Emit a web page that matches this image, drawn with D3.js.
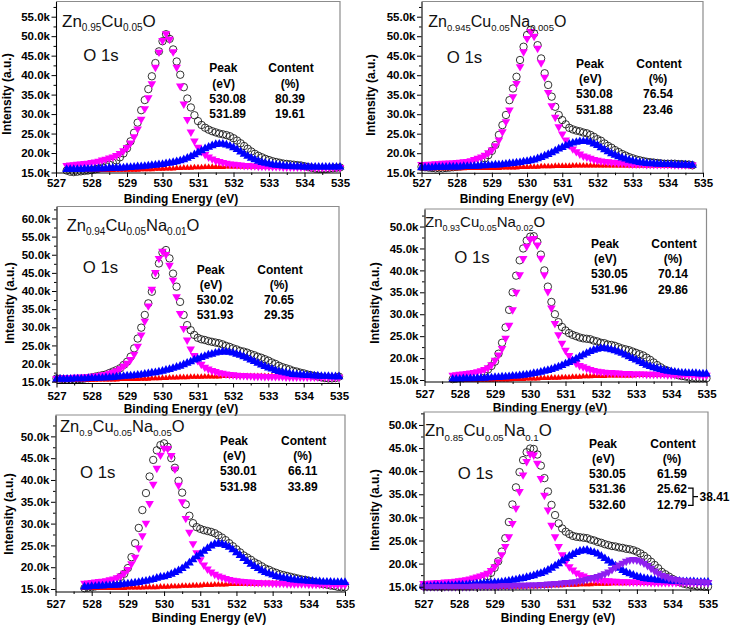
<!DOCTYPE html>
<html><head><meta charset="utf-8">
<script src="https://cdn.jsdelivr.net/npm/d3@7"></script>
<style>body{margin:0;background:#fff}svg{display:block}</style>
</head><body><svg id="c" width="730" height="625"></svg>
<script>
// ---------------- DATA ----------------
const xTickValues = [527,528,529,530,531,532,533,534,535];
const xMinorTicks = [527.5,528.5,529.5,530.5,531.5,532.5,533.5,534.5];
const yTicksA = [15,20,25,30,35,40,45,50,55];
const yTicksB = [15,20,25,30,35,40,45,50,55,60];
const yTicksC = [15,20,25,30,35,40,45,50];
const stepEV = 0.1;

// Panel 1: Zn0.95Cu0.05O
const p1Start = 527.3;
const p1Circles = [15.5,15.2,15.1,15.2,15.3,15.4,15.5,15.6,15.8,16.0,
16.3,16.6,17.0,17.5,18.1,18.9,19.9,21.2,23.0,25.2,
27.8,31.0,33.6,36.4,39.7,43.1,46.1,48.7,50.5,49.3,
46.6,43.5,40.1,36.9,34.0,31.7,29.7,28.2,27.2,26.5,
26.0,25.6,25.3,25.0,24.8,24.6,24.3,23.8,23.2,22.5,
21.8,21.1,20.4,19.8,19.3,18.9,18.5,18.2,17.9,17.7,
17.5,17.3,17.2,17.1,17.0,16.9,16.8,16.6,16.4,16.2,
16.0,15.9,15.9,15.9,16.0,16.1,16.2,16.3];
const p1Magenta = [16.8,16.9,17.0,17.1,17.2,17.3,17.4,17.6,17.7,17.9,
18.2,18.4,18.7,19.0,19.4,19.9,20.6,21.4,22.6,24.2,
26.2,28.7,31.4,34.2,37.8,42.0,45.9,48.9,50.6,49.2,
46.0,42.0,37.2,32.6,28.6,25.4,23.1,21.5,20.4,19.6,
19.0,18.5,18.1,17.8,17.6,17.4,17.2,17.1,17.0,16.9,
16.8,16.8,16.7,16.7,16.6,16.6,16.6,16.5,16.5,16.5,
16.5,16.4,16.4,16.4,16.4,16.4,16.4,16.4,16.4,16.3,
16.3,16.3,16.3,16.3,16.3,16.3,16.3,16.3];
const p1Blue = [15.8,15.8,15.8,15.8,15.8,15.9,15.9,15.9,15.9,16.0,
16.0,16.0,16.1,16.1,16.1,16.2,16.2,16.3,16.3,16.4,
16.5,16.5,16.6,16.7,16.8,16.9,17.0,17.1,17.3,17.4,
17.6,17.8,18.0,18.3,18.7,19.1,19.6,20.1,20.6,21.1,
21.5,21.9,22.2,22.3,22.3,22.1,21.8,21.4,20.9,20.3,
19.7,19.2,18.7,18.3,17.9,17.6,17.4,17.2,17.0,16.9,
16.8,16.7,16.6,16.6,16.5,16.5,16.5,16.4,16.4,16.4,
16.4,16.4,16.4,16.4,16.4,16.4,16.4,16.4];
const p1Red = [15.6,15.6,15.6,15.6,15.6,15.6,15.6,15.6,15.6,15.6,
15.6,15.6,15.6,15.6,15.7,15.7,15.7,15.7,15.7,15.7,
15.7,15.8,15.8,15.8,15.8,15.9,15.9,15.9,16.0,16.0,
16.0,16.1,16.1,16.2,16.2,16.2,16.3,16.3,16.3,16.4,
16.4,16.4,16.4,16.4,16.4,16.5,16.5,16.5,16.5,16.5,
16.5,16.5,16.5,16.5,16.5,16.5,16.5,16.5,16.5,16.5,
16.5,16.5,16.5,16.5,16.5,16.5,16.5,16.4,16.4,16.4,
16.4,16.4,16.4,16.4,16.4,16.4,16.4,16.4];
const p1Peaks = ["530.08","531.89"];
const p1Contents = ["80.39","19.61"];

// Panel 2: Zn0.945Cu0.05Na0.005O
const p2Start = 527.0;
const p2Circles = [16.5,16.4,16.3,16.2,16.1,16.1,16.1,16.2,16.3,16.4,
16.5,16.6,16.8,16.9,17.1,17.3,17.6,18.0,18.7,19.5,
20.6,22.1,24.7,27.2,29.8,33.6,36.6,39.6,43.9,47.3,
50.3,51.6,50.7,47.7,44.3,40.5,37.5,34.5,31.9,29.8,
28.5,27.4,26.5,26.1,25.8,25.6,25.3,25.1,24.7,24.2,
23.6,23.2,22.5,21.9,21.4,20.8,20.3,19.8,19.4,19.0,
18.7,18.4,18.2,18.0,17.8,17.7,17.6,17.5,17.4,17.3,
17.3,17.3,17.3,17.2,17.2,17.1,17.1,16.9];
const p2Magenta = [17.1,17.1,17.2,17.2,17.3,17.3,17.4,17.4,17.5,17.5,
17.6,17.7,17.8,17.9,18.1,18.4,18.7,19.0,19.5,20.1,
20.8,21.9,23.4,25.5,28.1,31.1,34.5,37.9,42.2,46.0,
49.4,51.2,50.0,46.9,43.2,39.5,35.6,32.2,29.2,26.8,
24.9,23.4,22.1,21.1,20.4,19.8,19.3,19.0,18.7,18.4,
18.2,18.0,17.9,17.8,17.7,17.6,17.5,17.5,17.4,17.3,
17.2,17.2,17.2,17.2,17.1,17.1,17.1,17.1,17.1,17.1,
17.1,17.1,17.0,17.0,17.0,17.0,17.0,17.0];
const p2Blue = [16.3,16.3,16.3,16.3,16.4,16.4,16.4,16.4,16.5,16.5,
16.5,16.5,16.6,16.6,16.6,16.7,16.7,16.8,16.8,16.9,
16.9,17.0,17.0,17.1,17.2,17.3,17.4,17.5,17.6,17.8,
17.9,18.1,18.3,18.6,18.9,19.3,19.7,20.1,20.6,21.1,
21.5,21.9,22.3,22.6,22.8,23.0,23.0,23.0,22.8,22.4,
22.0,21.4,20.9,20.4,19.9,19.5,19.1,18.8,18.5,18.2,
18.0,17.8,17.6,17.5,17.4,17.3,17.3,17.2,17.2,17.1,
17.1,17.1,17.0,17.0,17.0,17.0,16.9,16.9];
const p2Red = [16.1,16.1,16.1,16.1,16.1,16.1,16.1,16.1,16.1,16.1,
16.1,16.1,16.1,16.2,16.2,16.2,16.2,16.2,16.2,16.2,
16.2,16.2,16.2,16.3,16.3,16.3,16.3,16.3,16.4,16.4,
16.4,16.5,16.5,16.5,16.6,16.6,16.6,16.6,16.7,16.7,
16.7,16.7,16.7,16.8,16.8,16.8,16.8,16.8,16.8,16.8,
16.8,16.8,16.8,16.8,16.8,16.8,16.8,16.8,16.8,16.8,
16.8,16.8,16.8,16.8,16.8,16.8,16.8,16.8,16.8,16.8,
16.8,16.8,16.8,16.8,16.8,16.8,16.8,16.8];
const p2Peaks = ["530.08","531.88"];
const p2Contents = ["76.54","23.46"];

// Panel 3: Zn0.94Cu0.05Na0.01O
const p3Start = 527.0;
const p3Circles = [15.9,15.8,15.7,15.6,15.6,15.6,15.7,15.7,15.9,16.0,
16.2,16.4,16.6,16.8,17.0,17.4,17.8,18.2,18.7,19.6,
20.5,21.9,24.2,26.9,29.9,33.4,36.6,39.8,44.4,47.6,
50.6,51.3,49.0,44.8,41.2,37.0,33.4,30.6,29.2,27.9,
27.1,26.7,26.5,26.2,26.0,25.8,25.6,25.3,24.9,24.6,
24.2,23.9,23.5,23.3,23.0,22.6,22.3,21.9,21.6,21.2,
20.8,20.3,19.9,19.4,19.0,18.7,18.4,18.0,17.8,17.5,
17.3,17.0,16.8,16.6,16.4,16.2,16.0,15.9,15.9,16.0,
16.4];
const p3Magenta = [15.9,16.0,16.0,16.1,16.1,16.2,16.2,16.3,16.3,16.4,
16.5,16.6,16.7,16.9,17.0,17.3,17.6,18.0,18.6,19.3,
20.1,21.1,22.6,24.8,27.9,31.7,35.9,40.5,45.1,49.0,
51.0,50.1,47.1,43.0,38.4,33.8,29.7,26.5,24.0,22.2,
20.8,19.8,19.0,18.5,18.1,17.8,17.5,17.3,17.1,17.0,
16.9,16.8,16.7,16.7,16.6,16.6,16.5,16.5,16.5,16.4,
16.4,16.4,16.4,16.4,16.4,16.3,16.3,16.3,16.3,16.3,
16.3,16.3,16.3,16.3,16.3,16.3,16.3,16.2,16.2,16.2,
16.2];
const p3Blue = [15.7,15.7,15.7,15.7,15.7,15.8,15.8,15.8,15.8,15.9,
15.9,15.9,16.0,16.0,16.1,16.1,16.2,16.3,16.4,16.5,
16.6,16.6,16.7,16.8,16.9,17.1,17.2,17.4,17.5,17.7,
17.9,18.2,18.4,18.7,19.0,19.3,19.7,20.1,20.5,21.0,
21.3,21.7,22.0,22.4,22.6,22.9,23.1,23.2,23.2,23.1,
22.9,22.6,22.3,21.9,21.5,21.0,20.6,20.1,19.6,19.2,
18.8,18.5,18.1,17.8,17.6,17.4,17.2,17.0,16.9,16.9,
16.8,16.7,16.7,16.6,16.6,16.5,16.5,16.5,16.4,16.4,
16.4];
const p3Red = [15.5,15.5,15.5,15.5,15.5,15.5,15.5,15.5,15.5,15.5,
15.5,15.5,15.6,15.6,15.6,15.6,15.6,15.6,15.7,15.7,
15.7,15.7,15.7,15.7,15.8,15.8,15.8,15.9,15.9,15.9,
16.0,16.0,16.1,16.1,16.1,16.2,16.2,16.2,16.3,16.3,
16.3,16.3,16.4,16.4,16.4,16.4,16.4,16.5,16.5,16.5,
16.5,16.5,16.5,16.5,16.5,16.5,16.5,16.5,16.5,16.5,
16.5,16.5,16.5,16.5,16.5,16.5,16.5,16.5,16.5,16.5,
16.5,16.5,16.5,16.5,16.5,16.5,16.5,16.5,16.5,16.5,
16.5];
const p3Peaks = ["530.02","531.93"];
const p3Contents = ["70.65","29.35"];

// Panel 4: Zn0.93Cu0.05Na0.02O
const p4Start = 527.8;
const p4Circles = [15.2,15.3,15.4,15.4,15.5,15.7,15.9,16.2,16.5,16.9,
17.4,18.2,19.2,21.0,23.5,27.0,31.0,35.0,38.8,42.3,
45.0,46.8,47.7,47.8,46.5,43.6,40.0,36.3,32.8,30.0,
28.2,27.1,26.3,25.7,25.3,25.0,24.7,24.5,24.4,24.3,
24.0,23.8,23.5,23.4,23.1,23.0,22.8,22.5,22.2,22.0,
21.8,21.5,21.2,20.9,20.6,20.1,19.6,19.0,18.4,17.9,
17.4,17.1,16.7,16.4,16.1,15.9,15.8,15.6,15.5,15.4,
15.4,15.4,15.4];
const p4Magenta = [16.1,16.2,16.3,16.4,16.5,16.6,16.7,16.9,17.1,17.4,
17.8,18.5,19.5,20.7,22.2,24.5,27.5,31.0,35.0,39.0,
42.7,45.5,47.1,47.3,45.8,42.8,39.0,35.2,31.4,27.9,
25.3,23.4,21.8,20.6,19.6,18.8,18.3,18.0,17.7,17.4,
17.2,17.0,16.9,16.8,16.7,16.7,16.6,16.6,16.5,16.5,
16.5,16.4,16.4,16.4,16.4,16.3,16.3,16.3,16.3,16.3,
16.3,16.2,16.2,16.2,16.2,16.2,16.2,16.2,16.2,16.1,
16.1,16.1,16.1];
const p4Blue = [15.2,15.2,15.2,15.3,15.3,15.3,15.3,15.4,15.4,15.4,
15.5,15.5,15.6,15.6,15.7,15.7,15.8,15.9,15.9,16.0,
16.1,16.2,16.3,16.5,16.6,16.8,17.0,17.2,17.4,17.7,
18.0,18.3,18.7,19.0,19.4,19.8,20.3,20.7,21.1,21.5,
21.8,22.0,22.2,22.2,22.1,21.9,21.7,21.4,21.1,20.7,
20.3,19.9,19.6,19.2,18.8,18.4,18.1,17.8,17.6,17.4,
17.2,17.0,16.9,16.8,16.7,16.6,16.6,16.5,16.5,16.5,
16.4,16.4,16.4];
const p4Red = [15.0,15.0,15.0,15.0,15.0,15.0,15.0,15.0,15.0,15.0,
15.0,15.0,15.1,15.1,15.1,15.1,15.1,15.2,15.2,15.2,
15.2,15.3,15.3,15.3,15.3,15.4,15.4,15.4,15.5,15.5,
15.5,15.6,15.6,15.6,15.7,15.7,15.7,15.8,15.8,15.8,
15.9,15.9,15.9,15.9,16.0,16.0,16.0,16.0,16.0,16.0,
16.0,16.0,16.1,16.1,16.1,16.1,16.1,16.1,16.1,16.1,
16.1,16.1,16.1,16.1,16.1,16.1,16.1,16.1,16.1,16.1,
16.1,16.1,16.1];
const p4Peaks = ["530.05","531.96"];
const p4Contents = ["70.14","29.86"];

// Panel 5: Zn0.9Cu0.05Na0.05O
const p5Start = 527.8;
const p5Circles = [15.2,15.3,15.4,15.6,15.7,15.9,16.1,16.4,16.7,17.2,
17.8,18.5,19.8,22.3,25.5,29.0,33.1,37.0,40.8,44.6,
46.8,48.0,48.4,47.6,45.0,42.8,39.8,37.1,34.4,31.8,
30.1,29.2,28.8,28.5,28.3,28.1,27.8,27.3,26.8,26.2,
25.5,24.8,24.1,23.4,22.7,22.2,21.7,21.1,20.7,20.2,
19.7,19.4,19.0,18.7,18.4,18.2,18.0,17.8,17.6,17.4,
17.2,17.1,16.9,16.7,16.5,16.3,16.1,16.0,15.8,15.7,
15.5,15.4,15.4];
const p5Magenta = [16.3,16.4,16.5,16.6,16.7,16.8,16.9,17.1,17.3,17.6,
18.0,18.6,19.5,20.8,22.3,24.4,27.2,30.1,34.6,39.0,
42.7,45.7,47.3,47.2,45.6,42.5,38.8,35.0,31.2,28.0,
25.4,23.3,21.7,20.5,19.6,18.9,18.4,18.0,17.7,17.4,
17.2,17.0,16.9,16.8,16.7,16.6,16.6,16.5,16.5,16.4,
16.4,16.4,16.3,16.3,16.3,16.3,16.2,16.2,16.2,16.2,
16.2,16.2,16.1,16.1,16.1,16.1,16.1,16.1,16.0,16.0,
16.0,16.0,16.0];
const p5Blue = [15.5,15.5,15.6,15.6,15.7,15.7,15.8,15.8,15.9,15.9,
16.0,16.1,16.2,16.3,16.4,16.5,16.7,16.8,17.0,17.2,
17.5,17.7,17.8,18.1,18.4,18.8,19.2,19.7,20.3,21.0,
21.7,22.4,23.0,23.7,24.3,24.9,25.3,25.4,25.3,25.0,
24.6,24.0,23.3,22.7,22.0,21.3,20.7,20.2,19.7,19.2,
18.8,18.5,18.2,17.9,17.7,17.5,17.4,17.2,17.1,17.0,
16.9,16.9,16.8,16.8,16.7,16.7,16.6,16.6,16.6,16.5,
16.5,16.5,16.5];
const p5Red = [15.2,15.2,15.2,15.2,15.2,15.2,15.2,15.2,15.2,15.2,
15.2,15.2,15.3,15.3,15.3,15.3,15.3,15.4,15.4,15.4,
15.4,15.5,15.5,15.5,15.6,15.6,15.6,15.7,15.7,15.7,
15.8,15.8,15.8,15.9,15.9,15.9,16.0,16.0,16.0,16.0,
16.1,16.1,16.1,16.1,16.2,16.2,16.2,16.2,16.2,16.3,
16.3,16.3,16.3,16.3,16.3,16.3,16.3,16.4,16.4,16.4,
16.4,16.4,16.4,16.4,16.4,16.4,16.4,16.4,16.4,16.4,
16.4,16.4,16.4];
const p5Peaks = ["530.01","531.98"];
const p5Contents = ["66.11","33.89"];

// Panel 6: Zn0.85Cu0.05Na0.1O
const p6Start = 527.0;
const p6Circles = [15.1,15.1,15.1,15.1,15.1,15.1,15.2,15.2,15.3,15.3,
15.4,15.5,15.6,15.7,15.9,16.1,16.4,16.8,17.3,18.0,
19.1,20.5,22.6,25.5,29.0,32.8,36.5,39.8,42.4,44.1,
44.9,44.8,43.6,41.2,38.5,35.6,32.7,30.5,28.7,27.6,
26.9,26.4,26.0,25.8,25.7,25.6,25.5,25.2,25.0,24.7,
24.5,24.2,24.0,23.8,23.7,23.5,23.4,23.2,23.1,22.9,
22.6,22.2,21.7,21.1,20.4,19.7,19.0,18.2,17.7,17.2,
16.7,16.3,16.0,15.7,15.5,15.4,15.3,15.1,15.1,15.0,
15.0];
const p6Magenta = [15.7,15.7,15.8,15.8,15.9,15.9,16.0,16.0,16.1,16.2,
16.3,16.4,16.5,16.7,16.9,17.1,17.3,17.6,17.9,18.5,
19.3,20.4,21.9,23.7,25.8,28.7,32.0,35.6,39.2,42.1,
43.7,43.5,41.7,38.4,34.8,31.6,28.3,25.8,23.7,21.9,
20.4,19.3,18.6,18.0,17.6,17.3,17.0,16.8,16.6,16.5,
16.4,16.3,16.3,16.2,16.2,16.1,16.1,16.1,16.0,16.0,
16.0,16.0,16.0,16.0,15.9,15.9,15.9,15.9,15.9,15.9,
15.9,15.9,15.9,15.9,15.9,15.9,15.9,15.9,15.9,15.9,
15.9];
const p6Blue = [15.1,15.1,15.1,15.2,15.2,15.2,15.2,15.3,15.3,15.3,
15.4,15.4,15.4,15.5,15.5,15.6,15.6,15.7,15.7,15.8,
15.9,15.9,16.0,16.1,16.2,16.4,16.5,16.7,16.8,17.0,
17.2,17.4,17.7,17.9,18.2,18.6,19.0,19.5,20.0,20.6,
21.1,21.6,22.0,22.4,22.7,22.8,22.9,22.6,22.4,22.1,
21.6,21.1,20.6,20.1,19.5,19.0,18.5,18.1,17.8,17.5,
17.2,17.0,16.8,16.7,16.6,16.5,16.4,16.4,16.3,16.3,
16.2,16.2,16.2,16.1,16.1,16.1,16.1,16.0,16.0,16.0,
16.0];
const p6Purple = [15.0,15.0,15.0,15.0,15.0,15.0,15.0,15.0,15.0,15.0,
15.0,15.0,15.0,15.0,15.1,15.1,15.1,15.1,15.1,15.1,
15.1,15.1,15.2,15.2,15.2,15.2,15.3,15.3,15.3,15.3,
15.4,15.4,15.4,15.5,15.5,15.6,15.6,15.7,15.7,15.8,
15.9,15.9,16.0,16.1,16.3,16.4,16.6,16.8,17.0,17.2,
17.5,17.8,18.2,18.7,19.2,19.7,20.1,20.5,20.8,20.9,
20.8,20.5,20.1,19.6,19.0,18.4,17.9,17.5,17.2,16.9,
16.7,16.5,16.4,16.3,16.2,16.2,16.1,16.1,16.0,16.0,
15.9];
const p6Red = [14.8,14.8,14.8,14.8,14.8,14.8,14.8,14.8,14.8,14.8,
14.8,14.8,14.8,14.8,14.9,14.9,14.9,14.9,14.9,14.9,
14.9,14.9,14.9,14.9,15.0,15.0,15.0,15.0,15.0,15.1,
15.1,15.1,15.1,15.2,15.2,15.2,15.3,15.3,15.3,15.3,
15.4,15.4,15.4,15.4,15.5,15.5,15.5,15.5,15.6,15.6,
15.6,15.6,15.6,15.7,15.7,15.7,15.7,15.7,15.8,15.8,
15.8,15.8,15.8,15.8,15.8,15.8,15.9,15.9,15.9,15.9,
15.9,15.9,15.9,15.9,15.9,15.9,15.9,15.9,15.9,15.9,
15.9];
const p6Peaks = ["530.05","531.36","532.60"];
const p6Contents = ["61.59","25.62","12.79"];
const p6BracketSum = "38.41";

// ---------------- LAYOUT / STYLE ----------------
const FONT = "'Liberation Sans', Arial, Helvetica, sans-serif";
const C_MAG = "#ff00ff", C_BLUE = "#0000ff", C_RED = "#ff0000", C_PUR = "#8f1ff0";

const panels = [
 {start:p1Start, circles:p1Circles, comps:[[p1Red,C_RED,'r'],[p1Magenta,C_MAG,'m'],[p1Blue,C_BLUE,'b']],
  yTicks:yTicksA, title:[["Zn",0],["0.95",1],["Cu",0],["0.05",1],["O",0]], peaks:p1Peaks, contents:p1Contents,
  L:{left:56,right:340,top:1.5,bottom:172.5,yMin:15,yMax:58.9,xPad:2.3,yTX:7,yTY:94,xTX:181,xTY:199,
     tX:62,tY:26.7,tB:17,tS:10,oX:83.3,oY:61,pX:209.3,cX:291,r0:68,rd:15.3}},
 {start:p2Start, circles:p2Circles, comps:[[p2Red,C_RED,'r'],[p2Magenta,C_MAG,'m'],[p2Blue,C_BLUE,'b']],
  yTicks:yTicksA, title:[["Zn",0],["0.945",1],["Cu",0],["0.05",1],["Na",0],["0.005",1],["O",0]], peaks:p2Peaks, contents:p2Contents,
  L:{left:421.5,right:703,top:1.5,bottom:172.7,yMin:15,yMax:58.9,xPad:2,yTX:371,yTY:95,xTX:517,xTY:199,
     tX:428.3,tY:26.7,tB:16,tS:9.5,oX:446.7,oY:63.3,pX:576,cX:659,r0:63.3,rd:15.3}},
 {start:p3Start, circles:p3Circles, comps:[[p3Red,C_RED,'r'],[p3Magenta,C_MAG,'m'],[p3Blue,C_BLUE,'b']],
  yTicks:yTicksB, title:[["Zn",0],["0.94",1],["Cu",0],["0.05",1],["Na",0],["0.01",1],["O",0]], peaks:p3Peaks, contents:p3Contents,
  L:{left:56.5,right:339,top:206.5,bottom:383,yMin:14.64,yMax:63.3,xPad:4,yTX:10,yTY:303,xTX:181,xTY:409,
     tX:66.7,tY:230.7,tB:16.5,tS:10,oX:82.7,oY:272.7,pX:196.7,cX:280,r0:270,rd:15}},
 {start:p4Start, circles:p4Circles, comps:[[p4Red,C_RED,'r'],[p4Magenta,C_MAG,'m'],[p4Blue,C_BLUE,'b']],
  yTicks:yTicksC, title:[["Zn",0],["0.93",1],["Cu",0],["0.05",1],["Na",0],["0.02",1],["O",0]], peaks:p4Peaks, contents:p4Contents,
  L:{left:424.5,right:706.5,top:209,bottom:381.5,yMin:14.66,yMax:54,xPad:3.5,yTX:375,yTY:303,xTX:550,xTY:408,
     tX:425,tY:226.7,tB:15,tS:9,oX:454.3,oY:263.3,pX:591,cX:674,r0:243.3,rd:15.3}},
 {start:p5Start, circles:p5Circles, comps:[[p5Red,C_RED,'r'],[p5Magenta,C_MAG,'m'],[p5Blue,C_BLUE,'b']],
  yTicks:yTicksC, title:[["Zn",0],["0.9",1],["Cu",0],["0.05",1],["Na",0],["0.05",1],["O",0]], peaks:p5Peaks, contents:p5Contents,
  L:{left:55.5,right:345,top:415,bottom:591.5,yMin:14.43,yMax:54.9,xPad:3.5,yTX:8.5,yTY:514,xTX:209,xTY:617.5,
     tX:60,tY:431.7,tB:16.5,tS:9.5,oX:80,oY:477.7,pX:220,cX:303.7,r0:440.7,rd:15.2}},
 {start:p6Start, circles:p6Circles, comps:[[p6Red,C_RED,'r'],[p6Magenta,C_MAG,'m'],[p6Blue,C_BLUE,'b'],[p6Purple,C_PUR,'p']],
  yTicks:yTicksC, title:[["Zn",0],["0.85",1],["Cu",0],["0.05",1],["Na",0],["0.1",1],["O",0]], peaks:p6Peaks, contents:p6Contents,
  L:{left:423.5,right:708,top:412,bottom:589.5,yMin:14.4,yMax:52.8,xPad:5.5,yTX:375,yTY:510,xTX:558,xTY:617.5,
     tX:425,tY:436,tB:16.8,tS:9.7,oX:457.7,oY:479,pX:589,cX:673,r0:443.3,rd:15.25}}
];

const svg = d3.select('#c');
svg.append('rect').attr('width',730).attr('height',625).attr('fill','#fff');

const symStyle = {
  r:{size:18, rot:0},
  m:{size:32, rot:180},
  b:{size:34, rot:0},
  p:{size:32, rot:180}
};

function drawPanel(P, idx){
  const L = P.L;
  const g = svg.append('g');
  const x = d3.scaleLinear().domain([527,535]).range([L.left,L.right]);
  const y = d3.scaleLinear().domain([L.yMin,L.yMax]).range([L.bottom,L.top]);
  const xe = i => x(P.start + i*stepEV);

  // grey frame top/right
  g.append('path').attr('d',`M${L.left},${L.top}H${L.right}V${L.bottom}`)
    .attr('fill','none').attr('stroke','#8c8c8c').attr('stroke-width',1.2);

  // experimental points (open circles)
  g.append('g').selectAll('circle').data(P.circles).join('circle')
    .attr('cx',(d,i)=>xe(i)).attr('cy',d=>y(d)).attr('r',3.7)
    .attr('fill','none').attr('stroke','#111').attr('stroke-width',0.85);

  // fitted components
  P.comps.forEach(([vals,color,key])=>{
    const st = symStyle[key];
    const sym = d3.symbol().type(d3.symbolTriangle).size(st.size);
    g.append('g').selectAll('path').data(vals).join('path')
      .attr('d',sym)
      .attr('transform',(d,i)=>`translate(${xe(i)},${y(d)}) rotate(${st.rot})`)
      .attr('fill',color);
  });

  // axes
  const styleAxis = a => {
    a.select('.domain').attr('stroke','#000').attr('stroke-width',1.1);
    a.selectAll('.tick line').attr('stroke','#000').attr('stroke-width',1);
    a.selectAll('.tick text').attr('fill','#000').attr('font-family',FONT).attr('font-weight','bold');
  };
  g.append('g').attr('transform',`translate(0,${L.bottom})`)
    .call(d3.axisBottom(x).tickValues(xMinorTicks).tickSize(2.5).tickFormat(''))
    .call(a=>{a.select('.domain').remove();a.selectAll('line').attr('stroke','#000');});
  g.append('g').attr('transform',`translate(0,${L.bottom})`)
    .call(d3.axisBottom(x).tickValues(xTickValues).tickSizeInner(4.5).tickSizeOuter(0).tickPadding(L.xPad).tickFormat(d3.format('d')))
    .call(styleAxis).call(a=>a.selectAll('.tick text').attr('font-size',11.5));

  const yMinor = d3.range(17.5, L.yMax, 5);
  g.append('g').attr('transform',`translate(${L.left},0)`)
    .call(d3.axisLeft(y).tickValues(yMinor).tickSize(2.5).tickFormat(''))
    .call(a=>{a.select('.domain').remove();a.selectAll('line').attr('stroke','#000');});
  g.append('g').attr('transform',`translate(${L.left},0)`)
    .call(d3.axisLeft(y).tickValues(P.yTicks).tickSizeInner(4.5).tickSizeOuter(0).tickPadding(1.5).tickFormat(d=>d.toFixed(1)+'k'))
    .call(styleAxis).call(a=>a.selectAll('.tick text').attr('font-size',11.5));

  // axis titles
  g.append('text').attr('transform',`translate(${L.yTX},${L.yTY}) rotate(-90)`)
    .attr('text-anchor','middle').attr('dominant-baseline','central')
    .attr('font-family',FONT).attr('font-weight','bold').attr('font-size',12).text('Intensity (a.u.)');
  g.append('text').attr('x',L.xTX).attr('y',L.xTY)
    .attr('text-anchor','middle').attr('dominant-baseline','central')
    .attr('font-family',FONT).attr('font-weight','bold').attr('font-size',12).text('Binding Energy (eV)');

  // sample formula
  const t = g.append('text').attr('x',L.tX).attr('y',L.tY).attr('font-family',FONT).attr('fill','#111');
  let cur = 0;
  P.title.forEach(([s,sub])=>{
    const want = sub ? 4.6 : 0;
    t.append('tspan').attr('dy',want-cur).attr('font-size',sub?L.tS:L.tB).text(s);
    cur = want;
  });

  // O 1s
  g.append('text').attr('x',L.oX).attr('y',L.oY).attr('font-family',FONT).attr('font-size',16.8).attr('fill','#111').text('O 1s');

  // table
  const tb = (txt,xx,row,anchor)=> g.append('text').attr('x',xx).attr('y',L.r0+row*L.rd+4.3)
     .attr('text-anchor',anchor).attr('font-family',FONT).attr('font-weight','bold').attr('font-size',12).text(txt);
  tb('Peak',L.pX,0,'start');
  tb('(eV)',L.pX+3,1,'start');
  tb('Content',L.cX,0,'middle');
  tb('(%)',L.cX-1,1,'middle');
  P.peaks.forEach((v,k)=>tb(v,L.pX,2+k,'start'));
  P.contents.forEach((v,k)=>tb(v,L.cX-1,2+k,'middle'));

  if (idx===5){
    const yTop = L.r0+3*L.rd-1, yBot = L.r0+4*L.rd+1, yMid=(yTop+yBot)/2, bx=693;
    g.append('path').attr('d',`M${bx-5},${yTop}H${bx}V${yBot}H${bx-5}M${bx},${yMid}H${bx+5}`)
      .attr('fill','none').attr('stroke','#000').attr('stroke-width',1.3);
    g.append('text').attr('x',bx+6.5).attr('y',yMid+4.3).attr('font-family',FONT).attr('font-weight','bold')
      .attr('font-size',12).text(p6BracketSum);
  }
}
panels.forEach(drawPanel);
</script></body></html>
